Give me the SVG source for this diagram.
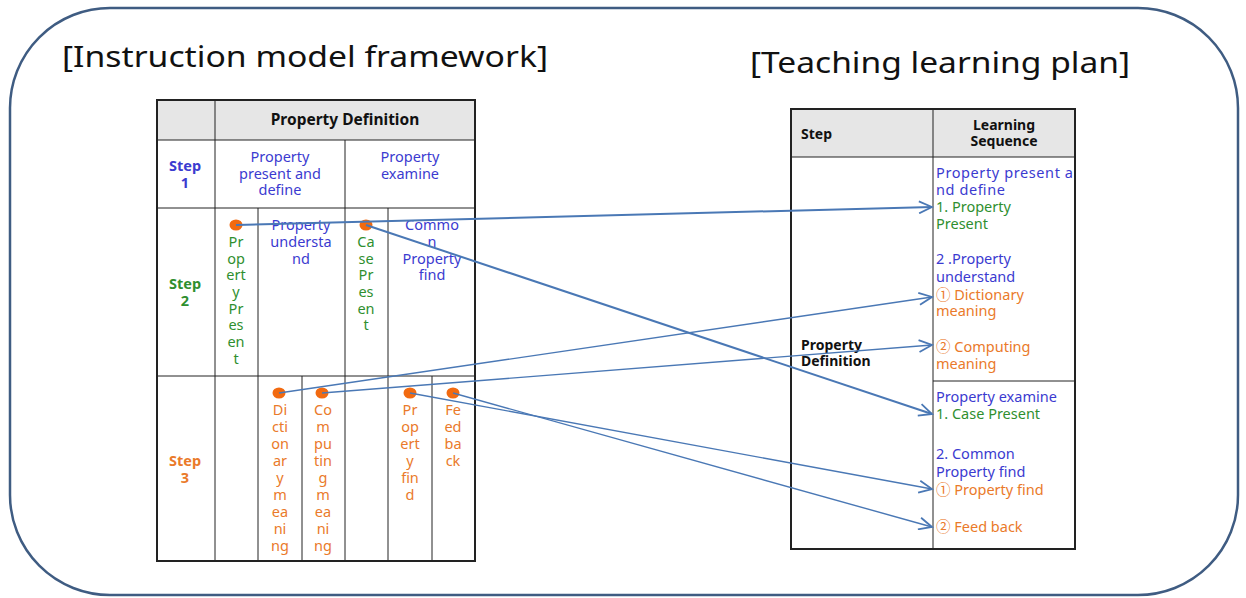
<svg xmlns="http://www.w3.org/2000/svg" width="1246" height="598" viewBox="0 0 1246 598">
  <style>
    text { font-family: "Noto Sans", "Noto Sans CJK KR", sans-serif; }
    .title { font-size: 29px; fill: #111; }
    .cell { font-size: 14.5px; }
    .hd { font-size: 14px; font-weight: bold; fill: #111; }
    .blue { fill: #3b3bd0; }
    .green { fill: #2f8f2f; }
    .orange { fill: #ea7a2a; }
    .bstep { font-weight: bold; }
    .grid { stroke: #222; stroke-width: 1; fill: none; }
    .frame { stroke: #222; stroke-width: 2; fill: none; }
    .dot { fill: #f26a10; }
    .link { stroke: #4a78b5; fill: none; marker-end: url(#arrow); }
  </style>
  <defs>
    <marker id="arrow" markerUnits="userSpaceOnUse" markerWidth="16" markerHeight="14" refX="14" refY="7" orient="auto">
      <path d="M1,1 L14,7 L1,13" fill="none" stroke="#4a78b5" stroke-width="1.8"/>
    </marker>
  </defs>

  <rect width="1246" height="598" fill="#fff"/>

  <!-- outer rounded frame -->
  <rect id="outer" x="10" y="8" width="1228" height="587" rx="100" ry="100" fill="none" stroke="#3f5c82" stroke-width="2.5"/>

  <g id="titles">
    <text class="title" x="62" y="67" textLength="486" lengthAdjust="spacingAndGlyphs">[Instruction model framework]</text>
    <text class="title" x="750" y="73" textLength="380" lengthAdjust="spacingAndGlyphs">[Teaching learning plan]</text>
  </g>

  <!-- instruction model framework table -->
  <g id="framework">
    <rect x="157" y="100" width="318" height="40" fill="#e6e6e6"/>
    <rect class="frame" x="157" y="100" width="318" height="461"/>
    <g class="grid">
      <line x1="157" y1="140" x2="475" y2="140"/>
      <line x1="157" y1="208" x2="475" y2="208"/>
      <line x1="157" y1="376" x2="475" y2="376"/>
      <line x1="215" y1="100" x2="215" y2="561"/>
      <line x1="345" y1="140" x2="345" y2="561"/>
      <line x1="258" y1="208" x2="258" y2="561"/>
      <line x1="388" y1="208" x2="388" y2="561"/>
      <line x1="302" y1="376" x2="302" y2="561"/>
      <line x1="432" y1="376" x2="432" y2="561"/>
    </g>
    <text class="hd" x="345" y="125" text-anchor="middle" style="font-size:15.5px">Property Definition</text>

    <g id="step1" class="cell" text-anchor="middle">
      <text class="blue bstep" x="185" y="171">Step</text>
      <text class="blue bstep" x="185" y="188">1</text>
      <text class="blue" x="280" y="162">Property</text>
      <text class="blue" x="280" y="179">present and</text>
      <text class="blue" x="280" y="195">define</text>
      <text class="blue" x="410" y="162">Property</text>
      <text class="blue" x="410" y="179">examine</text>
    </g>

    <g id="step2" class="cell" text-anchor="middle">
      <text class="green bstep" x="185" y="289">Step</text>
      <text class="green bstep" x="185" y="306">2</text>
      <g class="green">
        <text x="236" y="247">Pr</text><text x="236" y="264">op</text><text x="236" y="280">ert</text><text x="236" y="297">y</text>
        <text x="236" y="314">Pr</text><text x="236" y="330">es</text><text x="236" y="347">en</text><text x="236" y="364">t</text>
        <text x="366" y="247">Ca</text><text x="366" y="264">se</text><text x="366" y="280">Pr</text><text x="366" y="297">es</text>
        <text x="366" y="314">en</text><text x="366" y="330">t</text>
      </g>
      <g class="blue">
        <text x="301" y="230">Property</text><text x="301" y="247">understa</text><text x="301" y="264">nd</text>
        <text x="432" y="230">Commo</text><text x="432" y="247">n</text><text x="432" y="264">Property</text><text x="432" y="280">find</text>
      </g>
      <ellipse class="dot" cx="236" cy="225" rx="6.5" ry="5.5"/>
      <ellipse class="dot" cx="366" cy="225" rx="6.5" ry="5.5"/>
    </g>

    <g id="step3" class="cell orange" text-anchor="middle">
      <text class="bstep" x="185" y="466">Step</text>
      <text class="bstep" x="185" y="483">3</text>
      <text x="280" y="415">Di</text><text x="280" y="432">cti</text><text x="280" y="449">on</text><text x="280" y="466">ar</text>
      <text x="280" y="483">y</text><text x="280" y="500">m</text><text x="280" y="517">ea</text><text x="280" y="534">ni</text><text x="280" y="551">ng</text>
      <text x="323" y="415">Co</text><text x="323" y="432">m</text><text x="323" y="449">pu</text><text x="323" y="466">tin</text>
      <text x="323" y="483">g</text><text x="323" y="500">m</text><text x="323" y="517">ea</text><text x="323" y="534">ni</text><text x="323" y="551">ng</text>
      <text x="410" y="415">Pr</text><text x="410" y="432">op</text><text x="410" y="449">ert</text><text x="410" y="466">y</text>
      <text x="410" y="483">fin</text><text x="410" y="500">d</text>
      <text x="453" y="415">Fe</text><text x="453" y="432">ed</text><text x="453" y="449">ba</text><text x="453" y="466">ck</text>
      <ellipse class="dot" cx="279" cy="393" rx="6.5" ry="5.5"/>
      <ellipse class="dot" cx="322" cy="393" rx="6.5" ry="5.5"/>
      <ellipse class="dot" cx="410" cy="393" rx="6.5" ry="5.5"/>
      <ellipse class="dot" cx="453" cy="393" rx="6.5" ry="5.5"/>
    </g>
  </g>

  <!-- teaching learning plan table -->
  <g id="plan">
    <rect x="791" y="109" width="284" height="48" fill="#e6e6e6"/>
    <rect class="frame" x="791" y="109" width="284" height="440"/>
    <g class="grid">
      <line x1="791" y1="157" x2="1075" y2="157"/>
      <line x1="933" y1="109" x2="933" y2="549"/>
      <line x1="933" y1="381" x2="1075" y2="381"/>
    </g>
    <text class="hd" x="801" y="139">Step</text>
    <text class="hd" x="1004" y="130" text-anchor="middle">Learning</text>
    <text class="hd" x="1004" y="146" text-anchor="middle">Sequence</text>
    <text class="hd" x="801" y="350">Property</text>
    <text class="hd" x="801" y="366">Definition</text>

    <g class="cell">
      <text class="blue" x="936" y="178" textLength="137">Property present a</text>
      <text class="blue" x="936" y="195" textLength="69">nd define</text>
      <text class="green" x="936" y="212">1. Property</text>
      <text class="green" x="936" y="229">Present</text>
      <text class="blue" x="936" y="264">2 .Property</text>
      <text class="blue" x="936" y="282">understand</text>
      <text class="orange" x="936" y="300">① Dictionary</text>
      <text class="orange" x="936" y="316">meaning</text>
      <text class="orange" x="936" y="352">② Computing</text>
      <text class="orange" x="936" y="369">meaning</text>
      <text class="blue" x="936" y="402">Property examine</text>
      <text class="green" x="936" y="419">1. Case Present</text>
      <text class="blue" x="936" y="459">2. Common</text>
      <text class="blue" x="936" y="477">Property find</text>
      <text class="orange" x="936" y="495">① Property find</text>
      <text class="orange" x="936" y="532">② Feed back</text>
    </g>
  </g>

  <!-- connectors from framework items to plan steps -->
  <g id="connectors">
    <line class="link" x1="236" y1="225" x2="932" y2="207" stroke-width="2"/>
    <line class="link" x1="366" y1="225" x2="932" y2="414" stroke-width="2"/>
    <line class="link" x1="279" y1="393" x2="932" y2="297" stroke-width="1.4"/>
    <line class="link" x1="322" y1="393" x2="932" y2="345" stroke-width="1.4"/>
    <line class="link" x1="410" y1="393" x2="932" y2="489" stroke-width="1.4"/>
    <line class="link" x1="453" y1="393" x2="932" y2="527" stroke-width="1.4"/>
  </g>
</svg>
